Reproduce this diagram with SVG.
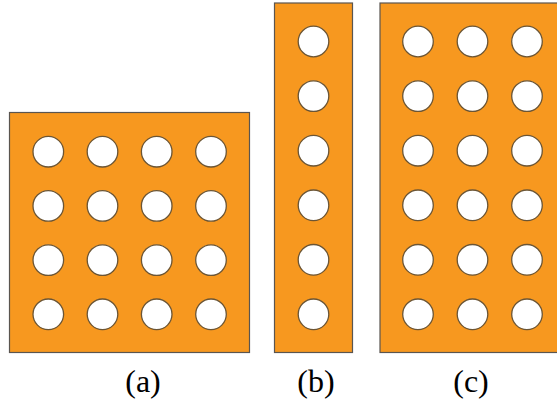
<svg xmlns="http://www.w3.org/2000/svg" width="557" height="409" viewBox="0 0 557 409">
<style>
.panel{fill:#F7981F;stroke:#5a5550;stroke-width:1.2}
.hole{fill:#fff;stroke:#6b5535;stroke-width:1.3}
.lbl{font-family:'Liberation Serif','Times New Roman',serif;font-size:32px;fill:#000;text-anchor:middle}
</style>
<defs>
<circle id="h" r="15.3" class="hole"/>
</defs>
<rect width="557" height="409" fill="#fff"/>
<g id="panel-a">
<rect class="panel" x="9.5" y="112.5" width="240" height="240"/>
<g>
<use href="#h" x="48.3" y="151.7"/><use href="#h" x="102.5" y="151.7"/><use href="#h" x="156.7" y="151.7"/><use href="#h" x="211" y="151.7"/>
<use href="#h" x="48.3" y="205.9"/><use href="#h" x="102.5" y="205.9"/><use href="#h" x="156.7" y="205.9"/><use href="#h" x="211" y="205.9"/>
<use href="#h" x="48.3" y="260.1"/><use href="#h" x="102.5" y="260.1"/><use href="#h" x="156.7" y="260.1"/><use href="#h" x="211" y="260.1"/>
<use href="#h" x="48.3" y="314.3"/><use href="#h" x="102.5" y="314.3"/><use href="#h" x="156.7" y="314.3"/><use href="#h" x="211" y="314.3"/>
</g>
<text class="lbl" x="143" y="392">(a)</text>
</g>
<g id="panel-b">
<rect class="panel" x="274.5" y="3" width="78" height="349.5"/>
<use href="#h" x="313.5" y="41.5"/>
<use href="#h" x="313.5" y="96.1"/>
<use href="#h" x="313.5" y="150.7"/>
<use href="#h" x="313.5" y="205.3"/>
<use href="#h" x="313.5" y="259.8"/>
<use href="#h" x="313.5" y="314.3"/>
<text class="lbl" x="316" y="392">(b)</text>
</g>
<g id="panel-c">
<rect class="panel" x="380" y="3" width="185" height="349.5"/>
<use href="#h" x="418" y="41.5"/><use href="#h" x="472.5" y="41.5"/><use href="#h" x="527" y="41.5"/>
<use href="#h" x="418" y="96.1"/><use href="#h" x="472.5" y="96.1"/><use href="#h" x="527" y="96.1"/>
<use href="#h" x="418" y="150.7"/><use href="#h" x="472.5" y="150.7"/><use href="#h" x="527" y="150.7"/>
<use href="#h" x="418" y="205.3"/><use href="#h" x="472.5" y="205.3"/><use href="#h" x="527" y="205.3"/>
<use href="#h" x="418" y="259.8"/><use href="#h" x="472.5" y="259.8"/><use href="#h" x="527" y="259.8"/>
<use href="#h" x="418" y="314.3"/><use href="#h" x="472.5" y="314.3"/><use href="#h" x="527" y="314.3"/>
<text class="lbl" x="471" y="392">(c)</text>
</g>
<g id="connectors"/>
</svg>
